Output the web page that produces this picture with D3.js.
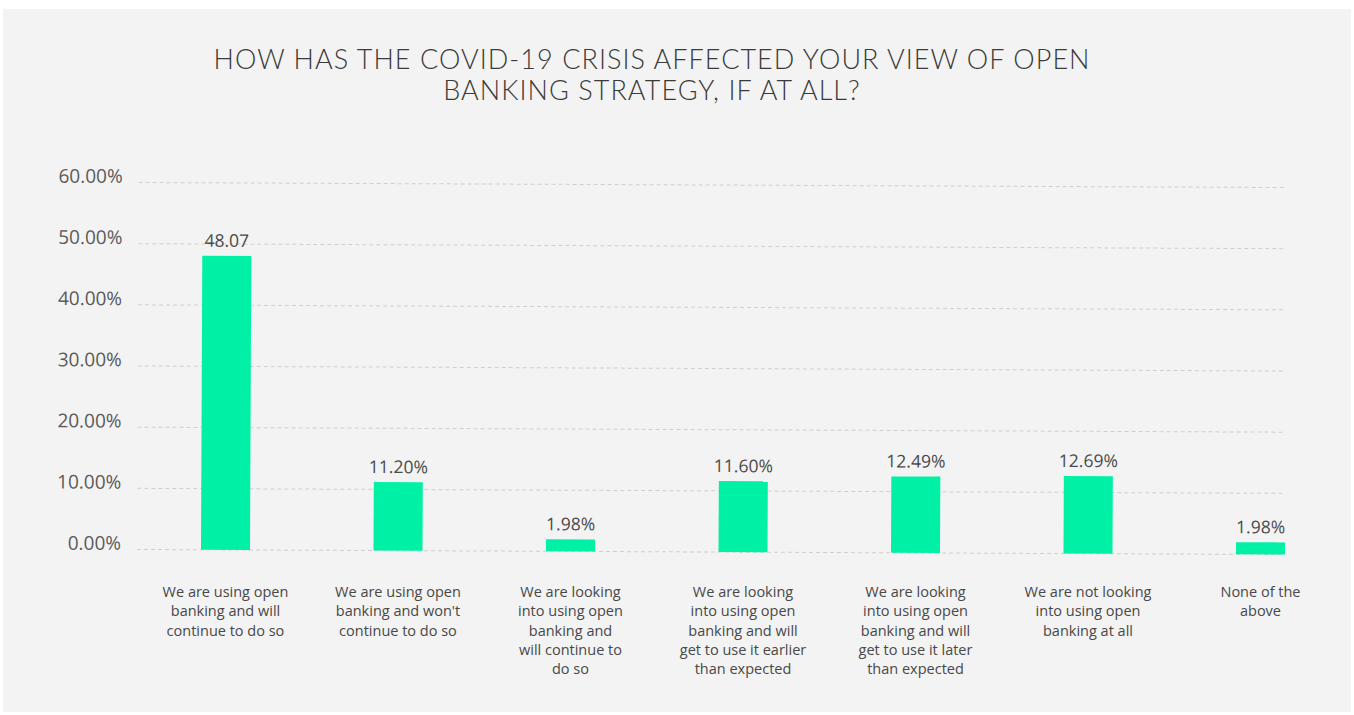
<!DOCTYPE html>
<html>
<head>
<meta charset="utf-8">
<script src="https://cdn.jsdelivr.net/npm/d3@7"></script>
<style>
  html, body { margin: 0; padding: 0; background: #ffffff; }
  svg { display: block; }
</style>
</head>
<body>
<svg id="chart" width="1354" height="715"></svg>
<script>
const titleLines = ["HOW HAS THE COVID-19 CRISIS AFFECTED YOUR VIEW OF OPEN", "BANKING STRATEGY, IF AT ALL?"];
const categories = [
  ["We are using open", "banking and will", "continue to do so"],
  ["We are using open", "banking and won't", "continue to do so"],
  ["We are looking", "into using open", "banking and", "will continue to", "do so"],
  ["We are looking", "into using open", "banking and will", "get to use it earlier", "than expected"],
  ["We are looking", "into using open", "banking and will", "get to use it later", "than expected"],
  ["We are not looking", "into using open", "banking at all"],
  ["None of the", "above"]
];
const values = [48.07, 11.20, 1.98, 11.60, 12.49, 12.69, 1.98];
const valueLabels = ["48.07", "11.20%", "1.98%", "11.60%", "12.49%", "12.69%", "1.98%"];
const yTicks = [0, 10, 20, 30, 40, 50, 60];

const svg = d3.select("#chart");
svg.append("rect").attr("x", 3).attr("y", 9).attr("width", 1348).attr("height", 703).attr("fill", "#f3f3f3");

const title = svg.append("text").attr("text-anchor", "middle")
  .attr("font-family", "Lato, 'Open Sans', sans-serif").attr("font-weight", 300)
  .attr("font-size", 27).attr("letter-spacing", 1.05).attr("fill", "#3a3a3a");
titleLines.forEach((t, i) => title.append("tspan").attr("x", 652).attr("y", 69 + i * 31).text(t));

const x = d3.scaleBand().domain(d3.range(values.length)).range([201, 1285]).paddingInner(0.716).paddingOuter(0);
const y = d3.scaleLinear().domain([0, 60]).range([552, 185]);

const g = svg.append("g").attr("transform", "rotate(0.25, 710, 552)");

// gridlines
g.append("g").selectAll("line").data(yTicks).join("line")
  .attr("x1", 137).attr("x2", 1285)
  .attr("y1", d => y(d)).attr("y2", d => y(d))
  .attr("stroke", "#cfcfcf").attr("stroke-width", 1).attr("stroke-dasharray", "4,3");

// y axis labels
const yAxis = d3.axisLeft(y).tickValues(yTicks).tickFormat(d => d.toFixed(2) + "%").tickSize(0).tickPadding(0);
const ya = g.append("g").attr("transform", "translate(121,0)").call(yAxis);
ya.select(".domain").remove();
ya.selectAll("text").attr("font-family", "'Open Sans', sans-serif").attr("font-size", 19)
  .attr("fill", "#5a5a5a").attr("dy", "0.0em");

// bars
g.append("g").selectAll("rect").data(values).join("rect")
  .attr("x", (d, i) => x(i)).attr("width", x.bandwidth())
  .attr("y", d => y(d)).attr("height", d => y(0) - y(d))
  .attr("fill", "#00f1a5");

// value labels
g.append("g").selectAll("text").data(values).join("text")
  .attr("x", (d, i) => x(i) + x.bandwidth() / 2).attr("y", d => y(d) - 9)
  .attr("text-anchor", "middle").attr("font-family", "'Open Sans', sans-serif")
  .attr("font-size", 17.5).attr("fill", "#4a4a4a")
  .text((d, i) => valueLabels[i]);

// category labels (not tilted)
const cl = svg.append("g").selectAll("text").data(categories).join("text")
  .attr("text-anchor", "middle").attr("font-family", "'Open Sans', sans-serif")
  .attr("font-size", 14.5).attr("fill", "#484848");
cl.each(function(lines, i) {
  const t = d3.select(this);
  lines.forEach((ln, j) => t.append("tspan").attr("x", x(i) + x.bandwidth() / 2).attr("y", 597 + j * 19.3).text(ln));
});
</script>
</body>
</html>
